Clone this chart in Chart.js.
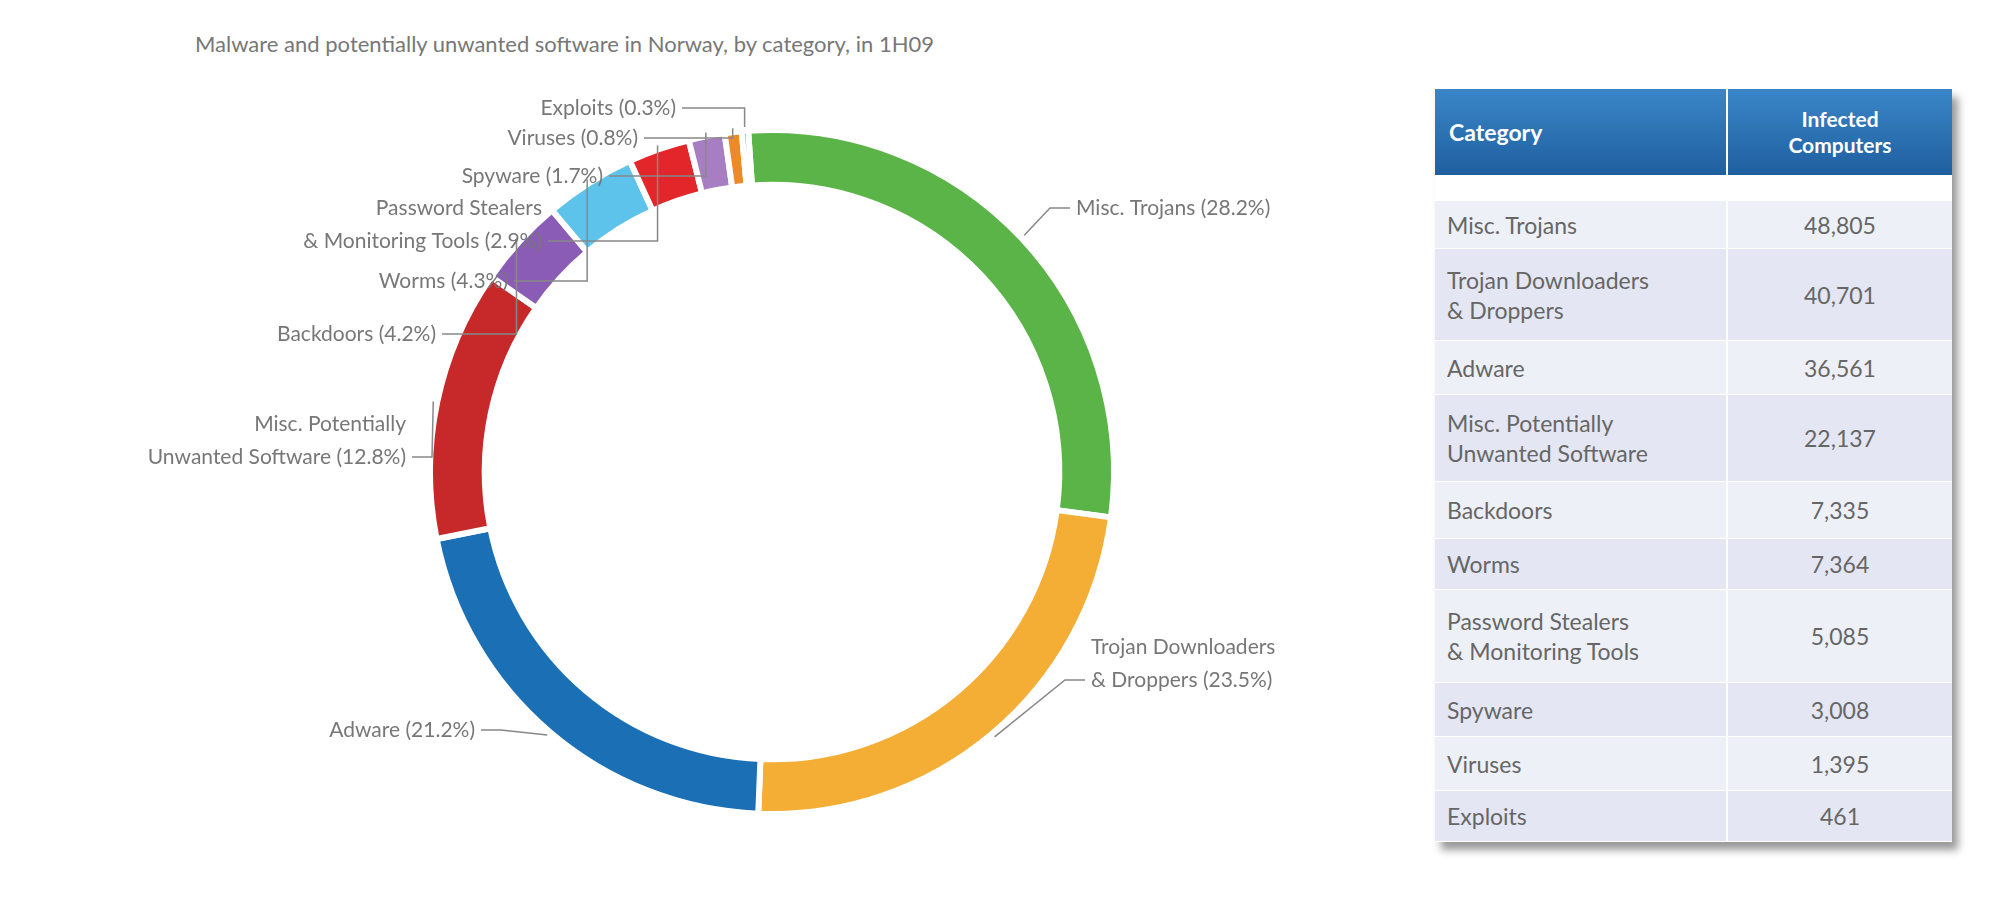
<!DOCTYPE html>
<html>
<head>
<meta charset="utf-8">
<script src="https://cdn.jsdelivr.net/npm/chart.js@4/dist/chart.umd.min.js"></script>
<style>
  body { margin:0; width:2000px; height:907px; background:#fff; font-family:Lato, sans-serif; position:relative; overflow:hidden; }
  #title { position:absolute; left:195px; top:30px; font-size:22px; color:#777; }
  #wrap { position:absolute; left:0; top:0; width:1400px; height:907px; }
  table { position:absolute; left:1435px; top:89px; border-collapse:collapse; width:517px; color:#666; font-size:23px; box-shadow:6px 8px 8px #999; }
  th { background:linear-gradient(#3a86c8,#1f5f9f); color:#fff; font-weight:bold; text-align:left; padding:0 14px; height:86px; }
  th.num { text-align:center; border-left:2px solid #fff; font-size:21px; line-height:26px; }
  tr.gap td { height:25px; background:#fff; padding:0; }
  td { padding:0 12px; line-height:30px; border-bottom:1px solid #fff; }
  td.num { text-align:center; border-left:2px solid #fff; width:200px; }
  tr.a td { background:#e4e7f3; }
  tr.b td { background:#eef0f8; }
</style>
</head>
<body>
<div id="title">Malware and potentially unwanted software in Norway, by category, in 1H09</div>
<div id="wrap"><canvas id="chart"></canvas></div>
<table id="tbl"></table>
<script>
/* =========================
   DATA
========================= */

const categories = ["Misc. Trojans", "Trojan Downloaders & Droppers", "Adware",
  "Misc. Potentially Unwanted Software", "Backdoors", "Worms",
  "Password Stealers & Monitoring Tools", "Spyware", "Viruses", "Exploits"];
const percents = [28.2, 23.5, 21.2, 12.8, 4.2, 4.3, 2.9, 1.7, 0.8, 0.3];
const infected = ["48,805", "40,701", "36,561", "22,137", "7,335", "7,364", "5,085", "3,008", "1,395", "461"];
const tableNames = [["Misc. Trojans"], ["Trojan Downloaders", "& Droppers"], ["Adware"],
  ["Misc. Potentially", "Unwanted Software"], ["Backdoors"], ["Worms"],
  ["Password Stealers", "& Monitoring Tools"], ["Spyware"], ["Viruses"], ["Exploits"]];
const chartLabels = [["Misc. Trojans (28.2%)"], ["Trojan Downloaders", "& Droppers (23.5%)"], ["Adware (21.2%)"],
  ["Misc. Potentially", "Unwanted Software (12.8%)"], ["Backdoors (4.2%)"], ["Worms (4.3%)"],
  ["Password Stealers", "& Monitoring Tools (2.9%)"], ["Spyware (1.7%)"], ["Viruses (0.8%)"], ["Exploits (0.3%)"]];

const colors = ["#5bb447", "#f4ad35", "#1a6fb5", "#c7292a", "#8a5cb5",
  "#5ec3ea", "#e2262a", "#a77ec1", "#ee8a25", "#2d8a44"];

// label placement: [x, y of first line, align]
const labelPos = [
  [1076, 208, "left"], [1091, 647, "left"], [475, 730, "right"], [406, 424, "right"],
  [436, 334, "right"], [508, 281, "right"], [542, 208, "right"], [603, 176, "right"],
  [638, 138, "right"], [676, 108, "right"]
];

/* =========================
   TABLE
========================= */

const heights = [48, 92, 54, 87, 57, 51, 93, 54, 54, 51];
let html = '<tr><th>Category</th><th class="num">Infected<br>Computers</th></tr><tr class="gap"><td colspan="2"></td></tr>';
tableNames.forEach((n, i) => {
  html += `<tr class="${i % 2 ? 'a' : 'b'}" style="height:${heights[i]}px"><td>${n.join("<br>")}</td><td class="num">${infected[i]}</td></tr>`;
});
document.getElementById("tbl").innerHTML = html;

/* =========================
   CHART
========================= */

const labelPlugin = {
  id: "leaders",
  afterDraw(chart) {
    const ctx = chart.ctx;
    const arcs = chart.getDatasetMeta(0).data;
    ctx.save();
    ctx.font = "21px Lato";
    ctx.fillStyle = "#777";
    ctx.strokeStyle = "#888";
    ctx.lineWidth = 1.5;
    ctx.textBaseline = "middle";
    arcs.forEach((arc, i) => {
      const [x, y, align] = labelPos[i];
      const lines = chartLabels[i];
      ctx.textAlign = align;
      lines.forEach((t, k) => ctx.fillText(t, x, y + k * 33));
      const mid = (arc.startAngle + arc.endAngle) / 2;
      const r = arc.outerRadius + 4;
      const ax = arc.x + Math.cos(mid) * r, ay = arc.y + Math.sin(mid) * r;
      const ly = y + (lines.length - 1) * 33;
      const lx = align === "left" ? x - 6 : x + 6;
      const ex = align === "left" ? lx - 20 : lx + 20;
      // elbow: short horizontal run, then to the arc; for small top slices go up vertically
      ctx.beginPath();
      ctx.moveTo(lx, ly);
      if (i >= 4 && ax > ex + 10) {
        ctx.lineTo(ax, ly);
      } else {
        ctx.lineTo(ex, ly);
      }
      ctx.lineTo(ax, ay);
      ctx.stroke();
    });
    ctx.restore();
  }
};

new Chart(document.getElementById("chart"), {
  type: "doughnut",
  data: {
    labels: categories,
    datasets: [{
      data: percents,
      backgroundColor: colors,
      borderColor: "#fff",
      borderWidth: 6
    }]
  },
  options: {
    responsive: true,
    maintainAspectRatio: false,
    animation: false,
    cutout: "84%",
    rotation: -4,
    layout: { padding: { left: 427, right: 283, top: 127, bottom: 90 } },
    plugins: { legend: { display: false }, tooltip: { enabled: false } }
  },
  plugins: [labelPlugin]
});
</script>
</body>
</html>
